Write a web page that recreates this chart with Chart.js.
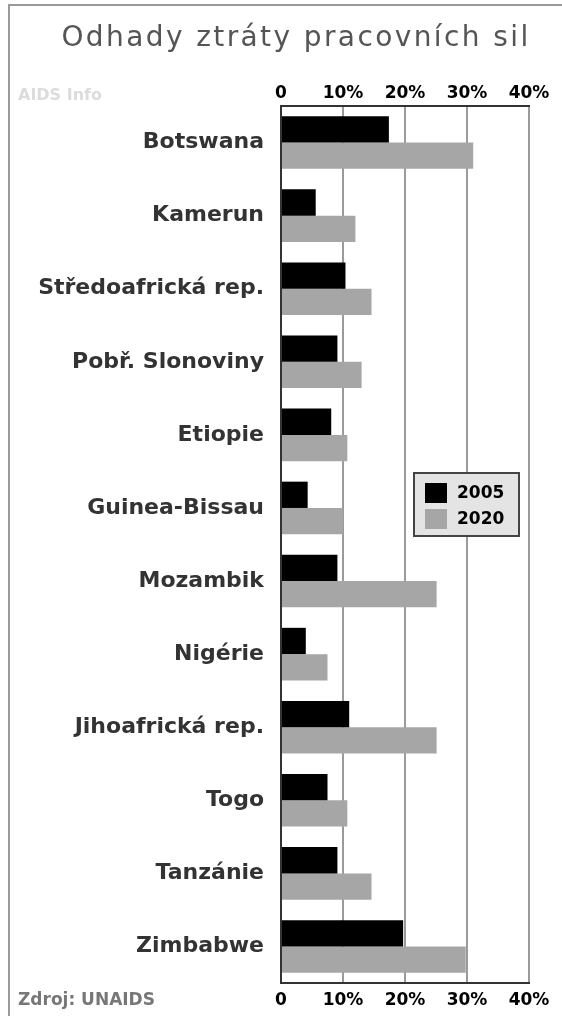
<!DOCTYPE html>
<html>
<head>
<meta charset="utf-8">
<script src="https://cdn.jsdelivr.net/npm/chart.js@4"></script>
<style>
  html, body { margin: 0; padding: 0; background: #fff; overflow: hidden; }
  #wrap { position: relative; width: 562px; height: 1016px; overflow: hidden; }
  #frame { position: absolute; left: 8px; top: 4px; width: 700px; height: 1100px; border: 2px solid #9a9a9a; }
  canvas { position: absolute; left: 0; top: 0; }
  .txt { position: absolute; font-family: "DejaVu Sans", sans-serif; white-space: nowrap; }
  #title { left: 0; width: 592px; text-align: center; top: 20px; font-size: 28px; letter-spacing: 2.4px; color: #555; }
  #brand { left: 18px; top: 85px; font-size: 16px; font-weight: bold; color: #dcdcdc; }
  #source { left: 18px; top: 989px; font-size: 17px; font-weight: bold; color: #777; }
</style>
</head>
<body>
<div id="wrap">
  <div id="frame"></div>
  <canvas id="lossChart" width="562" height="1016"></canvas>
  <div class="txt" id="title">Odhady ztráty pracovních sil</div>
  <div class="txt" id="brand">AIDS Info</div>
  <div class="txt" id="source">Zdroj: UNAIDS</div>
</div>
<script>
// data (percent of workforce lost)
const countries = [
  "Botswana", "Kamerun", "Středoafrická rep.", "Pobř. Slonoviny", "Etiopie",
  "Guinea-Bissau", "Mozambik", "Nigérie", "Jihoafrická rep.", "Togo",
  "Tanzánie", "Zimbabwe"
];
const loss2005 = [17.4, 5.6, 10.4, 9.1, 8.1, 4.3, 9.1, 4.0, 11.0, 7.5, 9.1, 19.7];
const loss2020 = [31.0, 12.0, 14.6, 13.0, 10.7, 10.0, 25.1, 7.5, 25.1, 10.7, 14.6, 29.8];
const seriesLabels = ["2005", "2020"];
const xTicks = [0, 10, 20, 30, 40];

const tickFont = { family: "DejaVu Sans", size: 17, weight: "bold" };
const tickFmt = v => (v === 0 ? "0" : v + "%");

// legend box drawn inside the plot, right side
const boxLegend = {
  id: "boxLegend",
  afterDraw(chart) {
    const { ctx, chartArea } = chart;
    const w = 105, h = 63;
    const x = chartArea.right - 10 - w;
    const y = chartArea.top + 367;
    ctx.save();
    ctx.fillStyle = "#e4e4e4";
    ctx.fillRect(x, y, w, h);
    ctx.strokeStyle = "#444";
    ctx.lineWidth = 2;
    ctx.strokeRect(x, y, w, h);
    ctx.font = "bold 17px 'DejaVu Sans'";
    ctx.textBaseline = "middle";
    chart.data.datasets.forEach((ds, i) => {
      const ry = y + 10 + i * 26;
      ctx.fillStyle = ds.backgroundColor;
      ctx.fillRect(x + 11, ry, 22, 20);
      ctx.fillStyle = "#000";
      ctx.fillText(ds.label, x + 43, ry + 11);
    });
    ctx.restore();
  }
};

new Chart(document.getElementById("lossChart"), {
  type: "bar",
  data: {
    labels: countries,
    datasets: [
      { label: seriesLabels[0], data: loss2005, backgroundColor: "#000000" },
      { label: seriesLabels[1], data: loss2020, backgroundColor: "#a6a6a6" }
    ]
  },
  options: {
    indexAxis: "y",
    responsive: false,
    animation: false,
    devicePixelRatio: 1,
    categoryPercentage: 0.72,
    barPercentage: 1.0,
    layout: { padding: { left: 0, right: 33, top: 80, bottom: 7 } },
    plugins: { legend: { display: false }, tooltip: { enabled: false } },
    scales: {
      x: {
        position: "top",
        min: 0, max: 40,
        afterBuildTicks: s => { s.ticks = xTicks.map(v => ({ value: v })); },
        afterFit: s => { s.height = 26; },
        grid: { color: "#9a9a9a", lineWidth: 2, drawTicks: false },
        border: { color: "#333", width: 2 },
        ticks: { color: "#000", font: tickFont, padding: 2, callback: tickFmt }
      },
      x2: {
        axis: "x",
        position: "bottom",
        min: 0, max: 40,
        afterBuildTicks: s => { s.ticks = xTicks.map(v => ({ value: v })); },
        afterFit: s => { s.height = 26; },
        grid: { color: "#9a9a9a", lineWidth: 2, drawTicks: false },
        border: { color: "#333", width: 2 },
        ticks: { color: "#000", font: tickFont, padding: 7, callback: tickFmt }
      },
      y: {
        afterFit: s => { s.width = 281; },
        grid: { display: false },
        border: { color: "#333", width: 2 },
        ticks: { color: "#333", font: { family: "DejaVu Sans", size: 22, weight: "bold" }, padding: 9 }
      }
    }
  },
  plugins: [boxLegend]
});
</script>
</body>
</html>
